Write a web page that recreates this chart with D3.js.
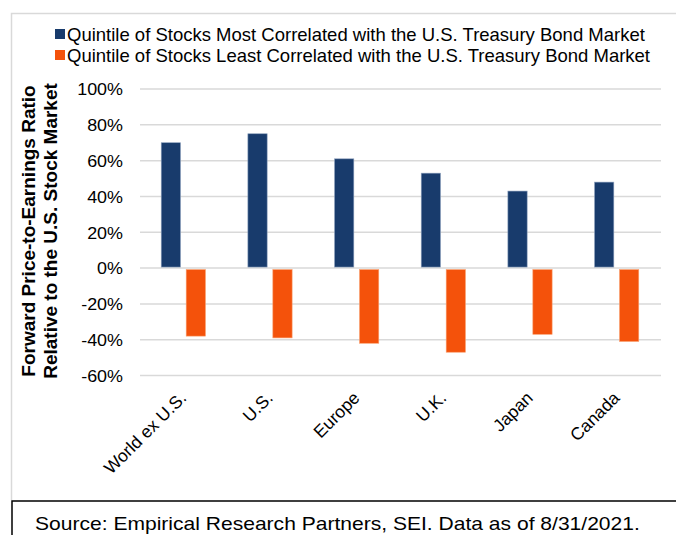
<!DOCTYPE html>
<html>
<head>
<meta charset="utf-8">
<script src="https://cdn.jsdelivr.net/npm/d3@7"></script>
<style>
  body { margin: 0; background: #fff; }
  svg { font-family: "Liberation Sans", Arial, sans-serif; }
</style>
</head>
<body>
<svg width="676" height="535"></svg>
<script>
// data
var categories = ["World ex U.S.", "U.S.", "Europe", "U.K.", "Japan", "Canada"];
var seriesNames = [
  "Quintile of Stocks Most Correlated with the U.S. Treasury Bond Market",
  "Quintile of Stocks Least Correlated with the U.S. Treasury Bond Market"
];
var mostCorrelated = [70, 75, 61, 53, 43, 48];
var leastCorrelated = [-38, -39, -42, -47, -37, -41];
var yTicks = [100, 80, 60, 40, 20, 0, -20, -40, -60];
var colors = ["#183b6c", "#f4520b"];

var svg = d3.select("svg");

// outer frame
svg.append("path")
  .attr("d", "M11.5,500 V13.5 H676")
  .attr("fill", "none")
  .attr("stroke", "#d9d9d9")
  .attr("stroke-width", 1.5);

// source box
svg.append("path")
  .attr("d", "M12,535 V501 H676")
  .attr("fill", "none")
  .attr("stroke", "#000")
  .attr("stroke-width", 1.5);

svg.append("text")
  .attr("transform", "translate(35,529.5) scale(1.17,1)")
  .style("font-size", "18px")
  .attr("fill", "#000")
  .text("Source: Empirical Research Partners, SEI. Data as of 8/31/2021.");

var y = d3.scaleLinear()
  .domain([-60, 100])
  .range([375.5, 89]);

var x0 = d3.scaleBand()
  .domain(categories)
  .range([140, 660])
  .padding(0);

var x1 = d3.scaleBand()
  .domain([0, 1])
  .range([0, x0.bandwidth()])
  .paddingInner(0.228)
  .paddingOuter(0.85);

// gridlines
svg.append("g")
  .selectAll("line")
  .data(yTicks)
  .enter()
  .append("line")
  .attr("x1", 140)
  .attr("x2", 661)
  .attr("y1", function(d) { return y(d); })
  .attr("y2", function(d) { return y(d); })
  .attr("stroke", "#d9d9d9")
  .attr("stroke-width", 1.5);

// y axis labels
var yAxis = d3.axisLeft(y)
  .tickValues(yTicks)
  .tickSize(0)
  .tickPadding(0)
  .tickFormat(function(d) { return d + "%"; });

var gy = svg.append("g")
  .attr("transform", "translate(123,0)")
  .call(yAxis);
gy.select(".domain").remove();
gy.selectAll(".tick text")
  .attr("fill", "#000")
  .attr("dy", "0.36em")
  .attr("transform", "scale(1.12,1)")
  .style("font-size", "16px")
  .style("font-family", "Liberation Sans, Arial, sans-serif");

// bars
var rows = categories.map(function(c, i) {
  return {cat: c, values: [mostCorrelated[i], leastCorrelated[i]]};
});

var groups = svg.append("g")
  .selectAll("g")
  .data(rows)
  .enter()
  .append("g")
  .attr("transform", function(d) { return "translate(" + x0(d.cat) + ",0)"; });

groups.selectAll("rect")
  .data(function(d) { return d.values.map(function(v, k) { return {k: k, v: v}; }); })
  .enter()
  .append("rect")
  .attr("x", function(d) { return x1(d.k); })
  .attr("width", x1.bandwidth())
  .attr("y", function(d) { return d.v >= 0 ? y(d.v) : y(0) + 1.5; })
  .attr("height", function(d) { return d.v >= 0 ? y(0) - 1 - y(d.v) : y(d.v) - y(0) - 1.5; })
  .attr("fill", function(d) { return colors[d.k]; })
  .attr("stroke", function(d) { return d.k == 0 ? "#8da0bd" : "#f9a070"; })
  .attr("stroke-width", 0.6);

// x labels (rotated)
svg.append("g")
  .selectAll("text")
  .data(categories)
  .enter()
  .append("text")
  .attr("transform", function(d) {
    return "translate(" + (x0(d) + x0.bandwidth() / 2 + 4) + ",399) rotate(-45)";
  })
  .attr("text-anchor", "end")
  .style("font-size", "17.5px")
  .attr("fill", "#000")
  .text(function(d) { return d; });

// y axis title
var yTitle = svg.append("text")
  .attr("transform", "translate(0,231) rotate(-90)")
  .attr("text-anchor", "middle")
  .style("font-size", "19px")
  .style("font-weight", "bold")
  .attr("fill", "#000");
yTitle.append("tspan").attr("x", 0).attr("y", 35).text("Forward Price-to-Earnings Ratio");
yTitle.append("tspan").attr("x", 0).attr("y", 57).text("Relative to the U.S. Stock Market");

// legend
var legend = svg.append("g")
  .selectAll("g")
  .data(seriesNames)
  .enter()
  .append("g")
  .attr("transform", function(d, i) { return "translate(55," + (34 + i * 21) + ")"; });

legend.append("rect")
  .attr("x", 0)
  .attr("y", -5)
  .attr("width", 10)
  .attr("height", 10)
  .attr("fill", function(d, i) { return colors[i]; });

legend.append("text")
  .attr("x", 12)
  .attr("y", 6.5)
  .style("font-size", "18.5px")
  .attr("fill", "#000")
  .text(function(d) { return d; });
</script>
</body>
</html>
